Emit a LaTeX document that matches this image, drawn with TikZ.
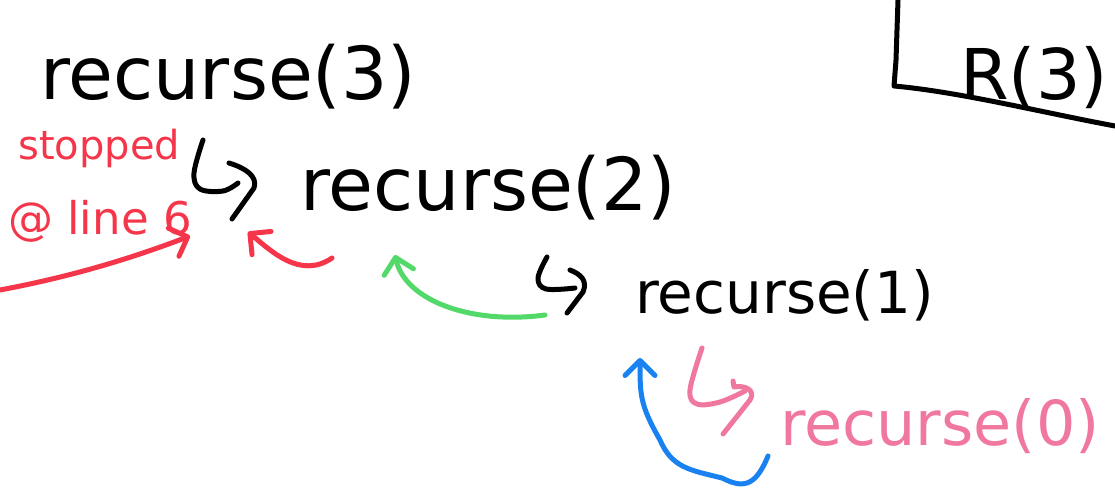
\documentclass[tikz,border=0pt]{standalone}
\usepackage{fontspec}
\setmainfont{DejaVu Sans}
\usetikzlibrary{arrows.meta}
\definecolor{inkred}{HTML}{F5364A}
\definecolor{inkgreen}{HTML}{52D96A}
\definecolor{inkblue}{HTML}{1A82F0}
\definecolor{inkpink}{HTML}{F0789E}
\begin{document}
\begin{tikzpicture}[
  x=1pt, y=-1pt,
  call/.style={anchor=base west, inner sep=0pt, font=\fontsize{73}{80}\selectfont},
  smallcall/.style={anchor=base west, inner sep=0pt, font=\fontsize{58}{64}\selectfont},
  note/.style={anchor=base west, inner sep=0pt, text=inkred},
  ink/.style={line width=5pt, line cap=round, line join=round},
  back/.style={ink, -{Straight Barb[length=15pt,width=30pt,line cap=round,line join=round]}}
]
\clip (0,0) rectangle (1115,497);

\node[call] (r3) at (40,100) {recurse(3)};
\node[call] (r2) at (300,210) {recurse(2)};
\node[smallcall] (r1) at (635,313) {recurse(1)};
\node[smallcall, text=inkpink, font=\fontsize{62}{68}\selectfont] (r0) at (780,445) {recurse(0)};
\node[call, font=\fontsize{70}{76}\selectfont] (res) at (960,100) {R(3)};

\node[note, font=\fontsize{40}{44}\selectfont] (stop) at (18,160) {stopped};
\node[note, font=\fontsize{45}{50}\selectfont] (line6) at (8,234) {@ line 6};

% hooks in front of the calls
\draw[ink] plot[smooth, tension=0.6] coordinates {(203,140) (194,173) (200,189) (223,191) (238,183)};
\draw[ink] (229,163) .. controls (245,168) and (258,176) .. (254,188) -- (232,219);
\draw[ink] plot[smooth, tension=0.6] coordinates {(547,257) (538,278) (546,289) (575,288)};
\draw[ink] (570,270) .. controls (580,274) and (588,280) .. (583,292) -- (567,313);
\draw[ink, inkpink] plot[smooth, tension=0.6] coordinates {(702,348) (690,390) (697,404) (720,402) (745,391)};
\draw[ink, inkpink] (733,381) -- (734,387) .. controls (745,385) and (756,390) .. (750,400) -- (723,434);

\coordinate (stoptail) at (0,290);
\coordinate (stoptip) at (190,236);
\coordinate (rettail) at (332,258);
\coordinate (rettip) at (248,232);
\coordinate (greentail) at (545,315);
\coordinate (greentip) at (395,255);
\coordinate (bluetail) at (768,456);
\coordinate (bluetip) at (640,358);

% box round the result
\draw[ink] (898,0) -- (896,60) -- (894,86)
  .. controls (960,92) and (1040,112) .. (1115,126);

% returns
\draw[back, inkred] (stoptail) .. controls (80,275) and (140,255) .. (stoptip);
\draw[back, inkred] (rettail) .. controls (300,280) and (270,250) .. (rettip);
\draw[back, inkgreen] (greentail) .. controls (470,325) and (405,300) .. (greentip);
\draw[back, inkblue] (bluetail) .. controls (755,488) and (742,488) .. (722,478)
  .. controls (690,470) and (672,468) .. (660,440)
  .. controls (640,405) and (640,395) .. (bluetip);
\end{tikzpicture}
\end{document}
